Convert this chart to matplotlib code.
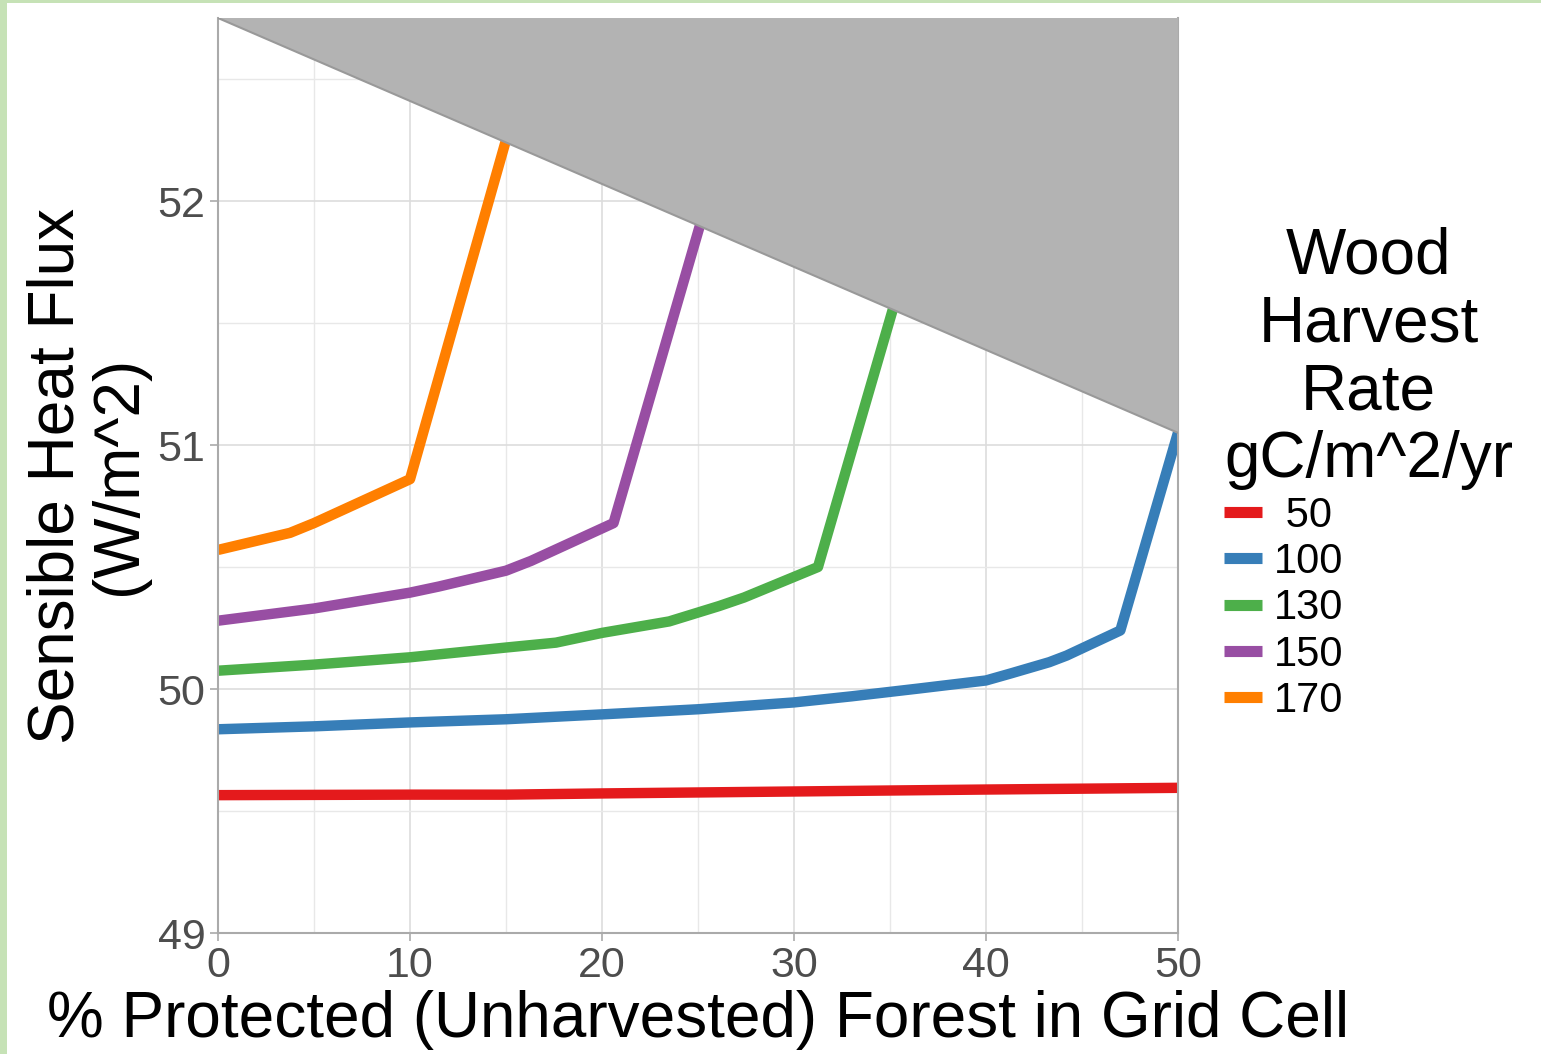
import matplotlib.pyplot as plt
from matplotlib.patches import Rectangle

plt.rcParams['font.family'] = ['Liberation Sans', 'DejaVu Sans']

rates = ["50", "100", "130", "150", "170"]
colors = ["#e41a1c", "#377eb8", "#4daf4a", "#984ea3", "#ff7f00"]

x_50 = [0, 10, 15, 20, 30, 40, 50]
y_50 = [49.565, 49.567, 49.567, 49.572, 49.580, 49.588, 49.595]

x_100 = [0, 5, 10, 15, 20, 25, 30, 33, 36.5, 40, 41.3, 43.3, 44.2, 47, 50]
y_100 = [49.835, 49.847, 49.863, 49.876, 49.896, 49.917, 49.945, 49.97,
         50.002, 50.035, 50.064, 50.11, 50.137, 50.24, 51.05]

x_130 = [0, 5, 10, 15, 17.6, 20, 23.5, 26.1, 27.4, 31.25, 35.2]
y_130 = [50.075, 50.1, 50.13, 50.17, 50.19, 50.23, 50.277, 50.34, 50.375, 50.5, 51.57]

x_150 = [0, 5, 10, 11.5, 15, 16.3, 20.6, 25.1]
y_150 = [50.28, 50.33, 50.395, 50.42, 50.485, 50.525, 50.68, 51.9]

x_170 = [0, 3.75, 5, 10, 15]
y_170 = [50.57, 50.64, 50.68, 50.86, 52.25]

series_x = [x_50, x_100, x_130, x_150, x_170]
series_y = [y_50, y_100, y_130, y_150, y_170]

# shaded region above the attainable limit
limit_x = [0, 50]
limit_y = [52.75, 51.05]

fig = plt.figure(figsize=(15.41, 10.54), dpi=100)
ax = fig.add_axes([0.1415, 0.1148, 0.6229, 0.8681])

ax.set_xlim(0, 50)
ax.set_ylim(49, 52.75)

ax.fill_between(limit_x, limit_y, 52.75, facecolor="#b3b3b3",
                edgecolor="none", zorder=3)
ax.plot(limit_x, limit_y, color="#999999", lw=1.5, zorder=3)

for xs, ys, c, lab in zip(series_x, series_y, colors, rates):
    ax.plot(xs, ys, color=c, lw=7.5, label=(" " + lab if lab == "50" else lab),
            solid_capstyle="butt", zorder=2)

ax.set_xticks([0, 10, 20, 30, 40, 50])
ax.set_xticks([5, 15, 25, 35, 45], minor=True)
ax.set_yticks([49, 50, 51, 52])
ax.set_yticks([49.5, 50.5, 51.5, 52.5], minor=True)
ax.grid(True, which="major", color="#dddddd", lw=1.2, zorder=0)
ax.grid(True, which="minor", color="#e8e8e8", lw=1.0, zorder=0)
ax.set_axisbelow(True)

for side in ["left", "bottom", "right"]:
    ax.spines[side].set_color("#aaaaaa")
    ax.spines[side].set_linewidth(1.5)
ax.spines["top"].set_visible(False)

ax.tick_params(axis="both", which="major", labelsize=31, colors="#4d4d4d",
               length=6, width=1.2, pad=3)
ax.tick_params(axis="both", which="major", color="#aaaaaa")
ax.tick_params(axis="both", which="minor", length=0)

ax.set_xlabel("% Protected (Unharvested) Forest in Grid Cell", fontsize=46,
              color="black", labelpad=3)
ax.set_ylabel("Sensible Heat Flux\n(W/m^2)", fontsize=46, color="black",
              labelpad=6, linespacing=1.05)

leg = ax.legend(title="Wood\nHarvest\nRate\ngC/m^2/yr", loc="upper left",
                bbox_to_anchor=(1224 / 1541, 1 - 227 / 1054),
                bbox_transform=fig.transFigure, frameon=False, fontsize=30,
                title_fontsize=46, handlelength=0.9, handletextpad=0.3,
                labelspacing=0.15, borderaxespad=0, borderpad=0,
                alignment="left")
leg.get_title().set_multialignment("center")
leg.get_title().set_linespacing(1.16)
for h in leg.get_lines():
    h.set_linewidth(8)
    h.set_solid_capstyle("butt")

# thin green border on the left and top edges
fig.patches.append(Rectangle((0, 0), 7 / 1541, 1, transform=fig.transFigure,
                             facecolor="#c6e2b6", edgecolor="none"))
fig.patches.append(Rectangle((0, 1 - 3 / 1054), 1, 3 / 1054,
                             transform=fig.transFigure,
                             facecolor="#c6e2b6", edgecolor="none"))

fig.savefig("out.png", dpi=100)
